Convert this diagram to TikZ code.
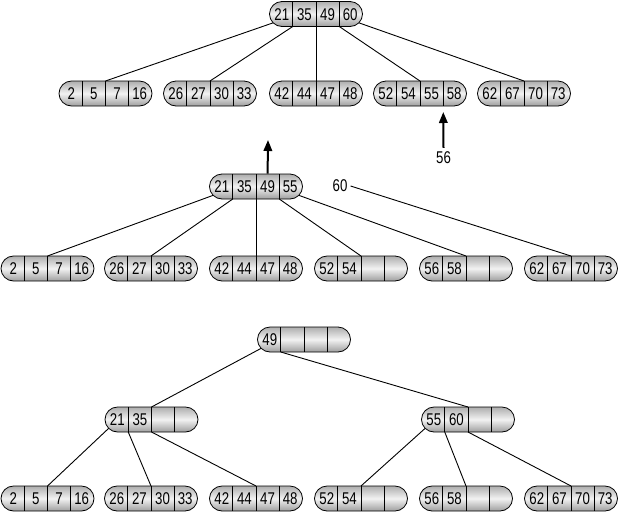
\documentclass[tikz,border=0pt]{standalone}
\usepackage{fontspec}
\setmainfont[FakeStretch=0.78]{Liberation Sans}
\usetikzlibrary{shapes.misc,arrows.meta,calc}
\tikzset{
 capsule/.style={rounded rectangle, draw=black, line width=0.8pt, minimum width=93pt, minimum height=25pt, inner sep=0pt, top color=black!32, bottom color=black!38, middle color=black!5},
 divider/.style={line width=0.8pt},
 key/.style={font=\fontsize{17}{18}\selectfont, inner sep=0pt},
 link/.style={line width=0.9pt},
 arr/.style={line width=2pt, -{Triangle[length=11pt,width=8.5pt]}},
}
\newcommand{\bnode}[7]{%
 \node[capsule] (#1) at (#2,#3) {};
 \begin{scope}[shift={(#2,#3)}]
  \draw[divider] (-23.25,-12.5) -- (-23.25,12.5);
  \draw[divider] (0,-12.5) -- (0,12.5);
  \draw[divider] (23.25,-12.5) -- (23.25,12.5);
  \node[key] (#1-a) at (-34.2,0.3) {#4};
  \node[key] (#1-b) at (-11.6,0.3) {#5};
  \node[key] (#1-c) at (11.6,0.3) {#6};
  \node[key] (#1-d) at (34.2,0.3) {#7};
  \coordinate (#1-p0) at (-42.8,8.8);
  \coordinate (#1-p1) at (-23.25,12.5);
  \coordinate (#1-p2) at (0,12.5);
  \coordinate (#1-p3) at (23.25,12.5);
  \coordinate (#1-p4) at (42.8,8.8);
  \coordinate (#1-top) at (0,-12.5);
 \end{scope}}
\begin{document}
\begin{tikzpicture}[x=1pt,y=-1pt]
\useasboundingbox (0,0) rectangle (619,515);
% top tree
\bnode{A}{316}{14}{21}{35}{49}{60}
\bnode{A1}{105.5}{93.5}{2}{5}{7}{16}
\bnode{A2}{210}{93.5}{26}{27}{30}{33}
\bnode{A3}{316}{93.5}{42}{44}{47}{48}
\bnode{A4}{420}{93.5}{52}{54}{55}{58}
\bnode{A5}{524}{93.5}{62}{67}{70}{73}
\draw[link] (A-p0) -- (A1-top);
\draw[link] (A-p1) -- (A2-top);
\draw[link] (A-p2) -- (A3-top);
\draw[link] (A-p3) -- (A4-top);
\draw[link] (A-p4) -- (A5-top);
\node[key] (n56) at (443.5,158) {56};
\draw[arr, shorten >=6pt] ([yshift=4pt]n56.north) -- (A4-p3);
% middle tree
\bnode{M}{256}{186.5}{21}{35}{49}{55}
\node[key] (n60) at (340,186) {60};
\bnode{B1}{47.5}{268.5}{2}{5}{7}{16}
\bnode{B2}{151}{268.5}{26}{27}{30}{33}
\bnode{B3}{256}{268.5}{42}{44}{47}{48}
\bnode{B4}{361}{268.5}{52}{54}{}{}
\bnode{B5}{466}{268.5}{56}{58}{}{}
\bnode{B6}{571}{268.5}{62}{67}{70}{73}
\coordinate (up) at (268,140);
\draw[arr] (M-c |- M.north) -- (up);
\draw[link] (M-p0) -- (B1-top);
\draw[link] (M-p1) -- (B2-top);
\draw[link] (M-p2) -- (B3-top);
\draw[link] (M-p3) -- (B4-top);
\draw[link] (M-p4) -- (B5-top);
\draw[link] ([xshift=3pt]n60.east) -- (B6-top);
% bottom tree
\bnode{R}{304}{339.5}{49}{}{}{}
\bnode{L}{151.5}{419.5}{21}{35}{}{}
\bnode{Q}{468}{419.5}{55}{60}{}{}
\bnode{C1}{47.5}{498.5}{2}{5}{7}{16}
\bnode{C2}{151}{498.5}{26}{27}{30}{33}
\bnode{C3}{256}{498.5}{42}{44}{47}{48}
\bnode{C4}{361}{498.5}{52}{54}{}{}
\bnode{C5}{466}{498.5}{56}{58}{}{}
\bnode{C6}{571}{498.5}{62}{67}{70}{73}
\draw[link] (R-p0) -- (L-top);
\draw[link] (R-p1) -- (Q-top);
\draw[link] (L-p0) -- (C1-top);
\draw[link] (L-p1) -- (C2-top);
\draw[link] (L-p2) -- (C3-top);
\draw[link] (Q-p0) -- (C4-top);
\draw[link] (Q-p1) -- (C5-top);
\draw[link] (Q-p2) -- (C6-top);
\end{tikzpicture}
\end{document}
